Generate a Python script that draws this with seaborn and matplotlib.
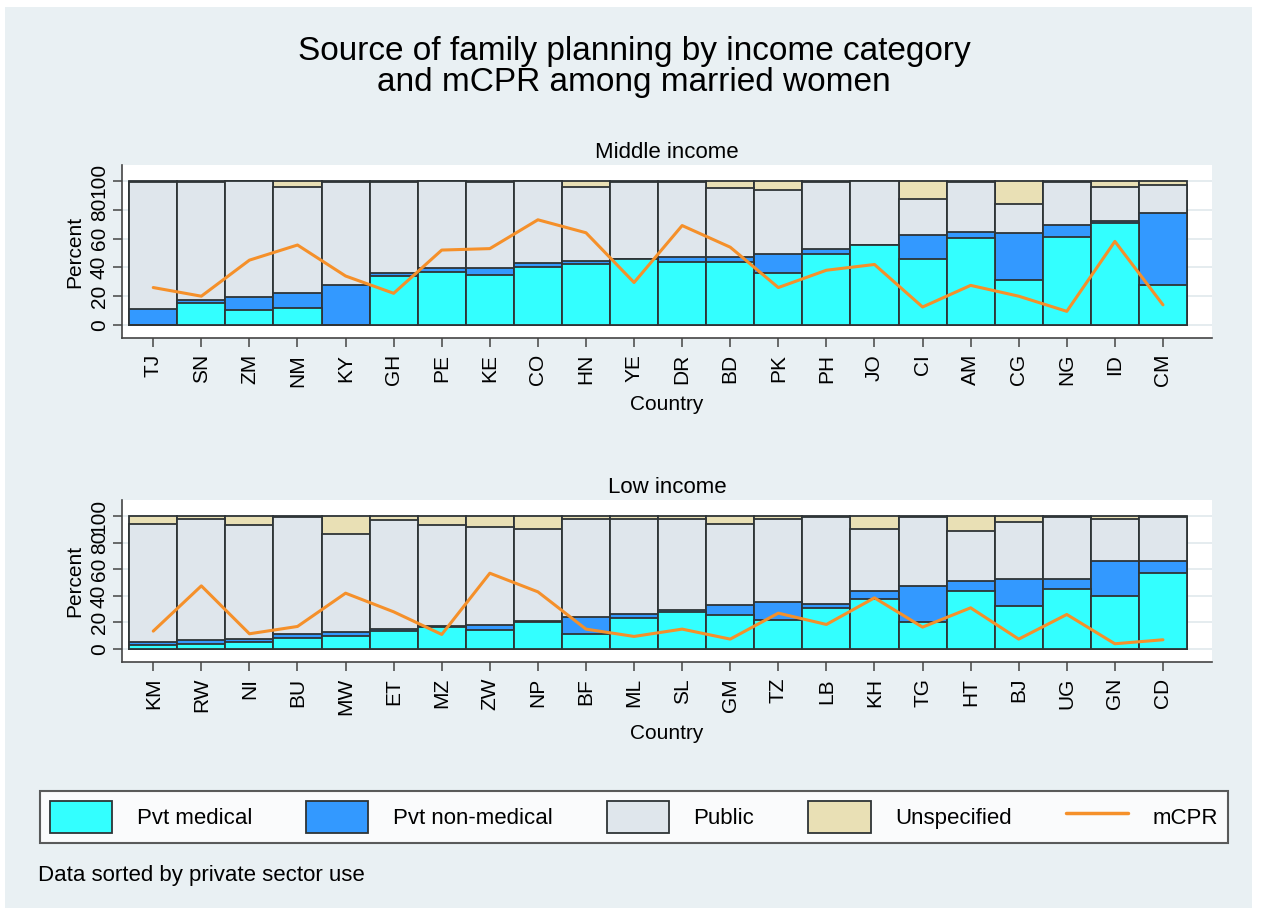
import numpy as np
import pandas as pd
import matplotlib
matplotlib.use("Agg")
import matplotlib.pyplot as plt
import seaborn as sns
from matplotlib.patches import Patch, Rectangle
from matplotlib.lines import Line2D

# ---------------- data ----------------
mid_countries = ["TJ", "SN", "ZM", "NM", "KY", "GH", "PE", "KE", "CO", "HN", "YE",
                 "DR", "BD", "PK", "PH", "JO", "CI", "AM", "CG", "NG", "ID", "CM"]
mid_pvt_medical = [0, 15, 10.5, 12, 0, 34, 37, 34.5, 40.5, 42, 46,
                   44, 44, 36, 49, 55.5, 45.5, 60.5, 31, 61, 70.5, 27.5]
mid_pvt_nonmed = [11, 2.5, 9, 10, 27.5, 2, 2.5, 5, 2.5, 2.5, 0,
                  3, 3, 13, 3.5, 0, 17, 4, 33, 8.5, 2, 50]
mid_public = [88, 81.5, 80.5, 73.5, 72, 63, 60.5, 59.5, 57, 51, 53,
              52, 48, 45, 47, 44.5, 25, 35, 20, 29.5, 23, 19.5]
mid_unspec = [1, 1, 0, 4.5, 0.5, 1, 0, 1, 0, 4.5, 1,
              1, 5, 6, 0.5, 0, 12.5, 0.5, 16, 1, 4.5, 3]
mid_mcpr = [26, 20, 45, 55.5, 34, 22, 52, 53, 73, 64, 29.5,
            69, 54, 26, 38, 42, 12.5, 27.5, 20, 9.5, 58, 14]

low_countries = ["KM", "RW", "NI", "BU", "MW", "ET", "MZ", "ZW", "NP", "BF", "ML",
                 "SL", "GM", "TZ", "LB", "KH", "TG", "HT", "BJ", "UG", "GN", "CD"]
low_pvt_medical = [3, 3.5, 5, 8.5, 9.5, 13.5, 16.5, 14.5, 20.5, 11, 23.5,
                   28, 25.5, 22, 31, 38, 20, 43.5, 32.5, 45, 40, 57.5]
low_pvt_nonmed = [2.5, 3.5, 2.5, 2.5, 3.5, 1.5, 0.7, 3.5, 0.5, 13, 2.5,
                  1.5, 7.5, 13, 3.2, 5.5, 27.5, 7.5, 20.5, 8, 26.5, 9]
low_public = [88.5, 90.5, 86, 88, 73.5, 82, 75.8, 74, 69.5, 73.5, 72,
              68.5, 61, 62.5, 65.3, 47, 52, 37.5, 42.5, 46.5, 31.5, 33]
low_unspec = [6, 2.5, 6.5, 1, 13.5, 3, 7, 8, 9.5, 2.5, 2,
              2, 6, 2.5, 0.5, 9.5, 0.5, 11.5, 4.5, 0.5, 2, 0.5]
low_mcpr = [13.5, 47.5, 11.5, 17, 42, 28, 11, 57, 43, 15, 9.5,
            15, 7.5, 27, 18.5, 38.5, 16.5, 31, 7.5, 26, 4, 7]

yticks = [0, 20, 40, 60, 80, 100]
legend_labels = ["Pvt medical", "Pvt non-medical", "Public", "Unspecified", "mCPR"]

# ---------------- style ----------------
CYAN = "#33FFFF"
BLUE = "#3399FF"
PUBLIC = "#DFE6EC"
UNSPEC = "#E9E0B5"
ORANGE = "#F5902A"
EDGE = "#2E3436"
BG = "#E9F0F3"
AXC = "#444444"

sns.set_style("white")
plt.rcParams["font.family"] = ["Liberation Sans", "DejaVu Sans"]
plt.rcParams["text.color"] = "black"
plt.rcParams["axes.labelcolor"] = "black"
plt.rcParams["xtick.color"] = "black"
plt.rcParams["ytick.color"] = "black"

W, H = 1262, 911
fig = plt.figure(figsize=(W / 100, H / 100), dpi=100)
fig.patch.set_facecolor("white")
fig.add_artist(Rectangle((5 / W, 1 - 908 / H), 1247 / W, 901 / H,
                         transform=fig.transFigure, facecolor=BG,
                         edgecolor="none", zorder=-10))


def fpos(l, t, r, b):
    return [l / W, 1 - b / H, (r - l) / W, (b - t) / H]


def panel(ax, countries, med, nonmed, public, unspec, mcpr, title, ylim):
    df = pd.DataFrame({"Country": countries, "med": med, "nonmed": nonmed,
                       "public": public, "unspec": unspec, "mcpr": mcpr})
    df["c1"] = df["med"]
    df["c2"] = df["c1"] + df["nonmed"]
    df["c3"] = df["c2"] + df["public"]
    df["c4"] = df["c3"] + df["unspec"]
    for col, color in [("c4", UNSPEC), ("c3", PUBLIC), ("c2", BLUE), ("c1", CYAN)]:
        sns.barplot(data=df, x="Country", y=col, order=countries, color=color,
                    saturation=1, width=1, edgecolor=EDGE, linewidth=1.3,
                    errorbar=None, ax=ax, zorder=2)
    sns.lineplot(data=df, x="Country", y="mcpr", sort=False, color=ORANGE,
                 lw=2.2, ax=ax, zorder=5)
    n = len(countries)
    ax.set_xlim(-0.65, n - 0.5 + 0.52)
    ax.set_ylim(*ylim)
    ax.set_yticks(yticks)
    ax.set_yticklabels([str(v) for v in yticks])
    ax.set_facecolor("white")
    ax.yaxis.grid(True, color="#E3EAEE", lw=1.3)
    ax.xaxis.grid(False)
    ax.set_axisbelow(True)
    for s in ["top", "right"]:
        ax.spines[s].set_visible(False)
    for s in ["left", "bottom"]:
        ax.spines[s].set_color(AXC)
        ax.spines[s].set_linewidth(1.2)
    ax.tick_params(axis="both", direction="out", length=6.5, width=1.1,
                   color=AXC, labelcolor="black", labelsize=15, pad=5,
                   left=True, bottom=True)
    ax.tick_params(axis="x", labelrotation=90)
    ax.tick_params(axis="y", labelrotation=90, pad=3)
    for lbl in ax.get_yticklabels():
        lbl.set_va("center")
    ax.set_ylabel("Percent", fontsize=15, labelpad=4, color="black")
    ax.set_xlabel("Country", fontsize=15, labelpad=6, color="black")
    ax.set_title(title, fontsize=16, pad=5, color="black")


ax1 = fig.add_axes(fpos(122, 165, 1212, 338))
panel(ax1, mid_countries, mid_pvt_medical, mid_pvt_nonmed, mid_public,
      mid_unspec, mid_mcpr, "Middle income", (-9, 111))

ax2 = fig.add_axes(fpos(122, 500, 1212, 662))
panel(ax2, low_countries, low_pvt_medical, low_pvt_nonmed, low_public,
      low_unspec, low_mcpr, "Low income", (-9.7, 112))

fig.text(634 / W, 1 - 67 / H,
         "Source of family planning by income category\nand mCPR among married women",
         ha="center", va="center", fontsize=24, linespacing=1.02, color="black")

handles = [Patch(facecolor=CYAN, edgecolor=EDGE, lw=1.3),
           Patch(facecolor=BLUE, edgecolor=EDGE, lw=1.3),
           Patch(facecolor=PUBLIC, edgecolor=EDGE, lw=1.3),
           Patch(facecolor=UNSPEC, edgecolor=EDGE, lw=1.3),
           Line2D([0], [0], color=ORANGE, lw=2.5)]
leg = fig.legend(handles=handles, labels=legend_labels, loc="center",
                 bbox_to_anchor=(40 / W, 1 - 846 / H, 1188 / W, 58 / H),
                 mode="expand", ncol=5, frameon=True, fancybox=False,
                 edgecolor="#333333", facecolor="white", fontsize=16,
                 handlelength=2.8, handleheight=1.85, handletextpad=1.1,
                 borderaxespad=0, borderpad=0.45)
leg.get_frame().set_linewidth(1.5)

fig.text(38 / W, 1 - 876 / H, "Data sorted by private sector use",
         ha="left", va="center", fontsize=16, color="black")

fig.savefig("out.png", dpi=100, facecolor=fig.get_facecolor())
